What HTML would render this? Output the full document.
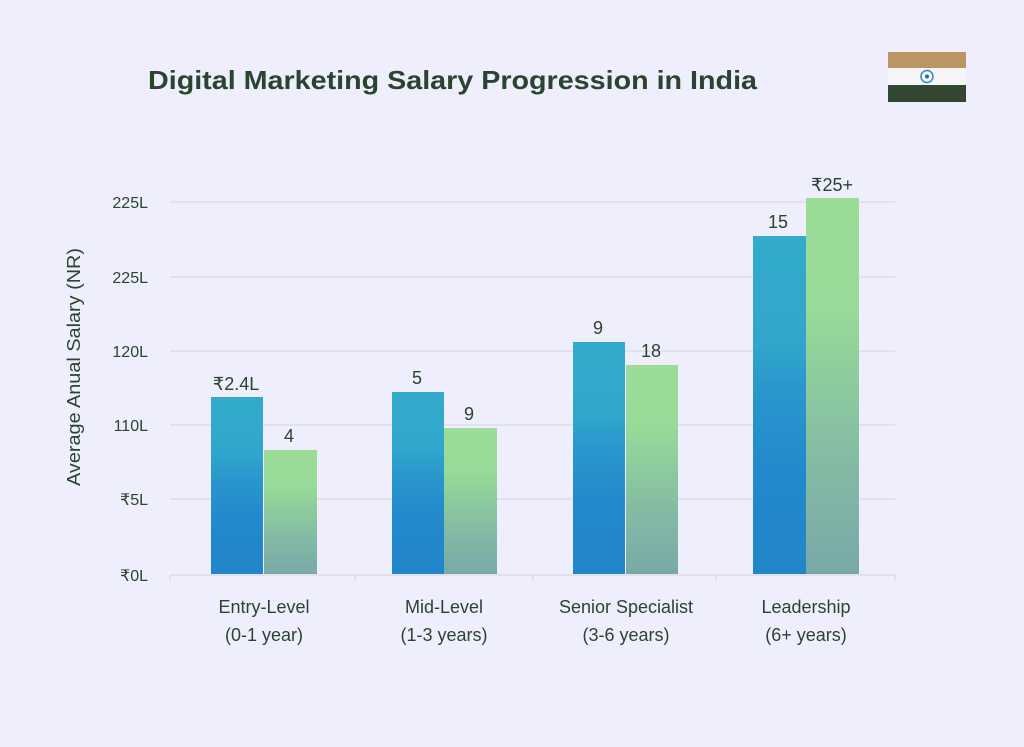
<!DOCTYPE html>
<html><head><meta charset="utf-8"><style>
html,body{margin:0;padding:0;background:#efeefc;}
svg{display:block;}
text{font-family:"Liberation Sans","DejaVu Sans",sans-serif;fill:#2a4430;}
</style></head><body>
<svg width="1024" height="747" viewBox="0 0 1024 747" xmlns="http://www.w3.org/2000/svg">
<defs>
<linearGradient id="gb" x1="0" y1="0" x2="0" y2="1">
<stop offset="0" stop-color="#33abcb"/>
<stop offset="0.32" stop-color="#31a6cc"/>
<stop offset="0.45" stop-color="#2a97cd"/>
<stop offset="0.7" stop-color="#2289cc"/>
<stop offset="1" stop-color="#2287ca"/>
</linearGradient>
<linearGradient id="gg" x1="0" y1="0" x2="0" y2="1">
<stop offset="0" stop-color="#9bdc97"/>
<stop offset="0.3" stop-color="#98da97"/>
<stop offset="0.45" stop-color="#8fce9c"/>
<stop offset="0.7" stop-color="#84bba4"/>
<stop offset="1" stop-color="#78a9a8"/>
</linearGradient>
</defs>
<rect width="1024" height="747" fill="#efeefc"/>
<text x="148" y="89" font-size="26" font-weight="bold" textLength="609" lengthAdjust="spacingAndGlyphs">Digital Marketing Salary Progression in India</text>
<!-- flag -->
<rect x="888" y="52" width="78" height="16" fill="#b99664"/>
<rect x="888" y="68" width="78" height="17" fill="#f6f6f8"/>
<rect x="888" y="85" width="78" height="17" fill="#324632"/>
<circle cx="927" cy="76.5" r="6" fill="none" stroke="#2a8cc8" stroke-width="1.5"/>
<circle cx="927" cy="76.5" r="2" fill="#2a6a9a"/>
<!-- grid -->
<g stroke="#d9d9e2" stroke-width="1.2">
<line x1="170" y1="202" x2="895" y2="202"/>
<line x1="170" y1="277" x2="895" y2="277"/>
<line x1="170" y1="351" x2="895" y2="351"/>
<line x1="170" y1="425" x2="895" y2="425"/>
<line x1="170" y1="499" x2="895" y2="499"/>
<line x1="170" y1="575" x2="895" y2="575"/>
<line x1="170" y1="575" x2="170" y2="581"/>
<line x1="355" y1="575" x2="355" y2="581"/>
<line x1="533" y1="575" x2="533" y2="581"/>
<line x1="716" y1="575" x2="716" y2="581"/>
<line x1="895" y1="575" x2="895" y2="581"/>
</g>
<!-- y tick labels -->
<g font-size="16" text-anchor="end">
<text x="148" y="208">225L</text>
<text x="148" y="283">225L</text>
<text x="148" y="357">120L</text>
<text x="148" y="431">110L</text>
<text x="148" y="505">₹5L</text>
<text x="148" y="581">₹0L</text>
</g>
<text x="0" y="0" font-size="18" text-anchor="middle" transform="translate(80,367) rotate(-90)" textLength="238" lengthAdjust="spacingAndGlyphs">Average Anual Salary (NR)</text>
<!-- bars -->
<rect x="211" y="397" width="52" height="177" fill="url(#gb)"/>
<rect x="264" y="450" width="53" height="124" fill="url(#gg)"/>
<rect x="392" y="392" width="52" height="182" fill="url(#gb)"/>
<rect x="444" y="428" width="53" height="146" fill="url(#gg)"/>
<rect x="573" y="342" width="52" height="232" fill="url(#gb)"/>
<rect x="626" y="365" width="52" height="209" fill="url(#gg)"/>
<rect x="753" y="236" width="53" height="338" fill="url(#gb)"/>
<rect x="806" y="198" width="53" height="376" fill="url(#gg)"/>
<!-- value labels -->
<g font-size="18" text-anchor="middle">
<text x="236" y="390">₹2.4L</text>
<text x="289" y="442">4</text>
<text x="417" y="384">5</text>
<text x="469" y="420">9</text>
<text x="598" y="334">9</text>
<text x="651" y="357">18</text>
<text x="778" y="228">15</text>
<text x="832" y="191">₹25+</text>
</g>
<!-- category labels -->
<g font-size="18" text-anchor="middle">
<text x="264" y="613">Entry-Level</text>
<text x="264" y="641">(0-1 year)</text>
<text x="444" y="613">Mid-Level</text>
<text x="444" y="641">(1-3 years)</text>
<text x="626" y="613">Senior Specialist</text>
<text x="626" y="641">(3-6 years)</text>
<text x="806" y="613">Leadership</text>
<text x="806" y="641">(6+ years)</text>
</g>
</svg>
</body></html>
